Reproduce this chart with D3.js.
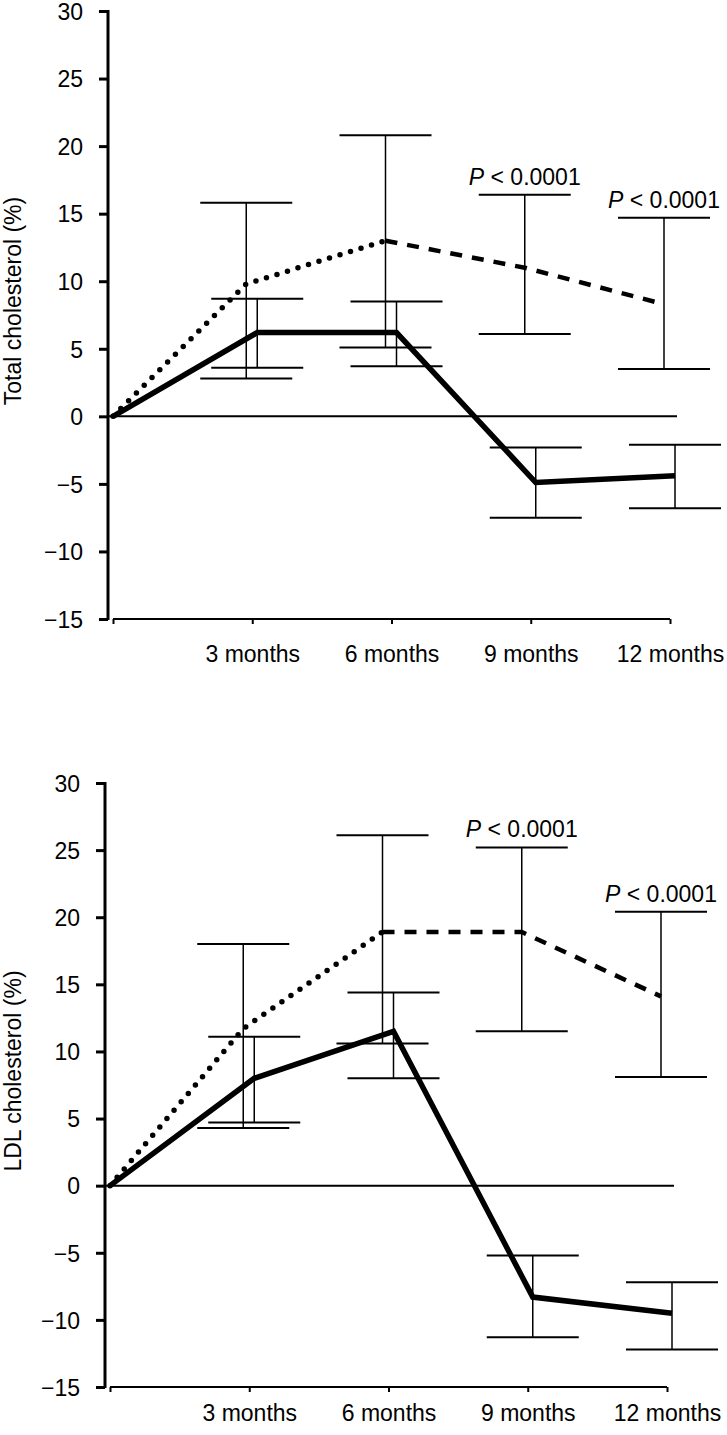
<!DOCTYPE html>
<html>
<head>
<meta charset="utf-8">
<script src="https://cdn.jsdelivr.net/npm/d3@7"></script>
<style>
  html, body { margin: 0; padding: 0; background: #fff; }
  svg { display: block; }
  text { font-family: "Liberation Sans", Arial, Helvetica, sans-serif; fill: #000; }
</style>
</head>
<body>
<svg id="chart" width="727" height="1435"></svg>
<script>
// ---- data ----
const months = [0, 3, 6, 9, 12];
const monthLabels = ["", "3 months", "6 months", "9 months", "12 months"];
const yTickValues = [-15, -10, -5, 0, 5, 10, 15, 20, 25, 30];

// Panel 1: Total cholesterol (%)
const totalSolid   = [0, 6.2, 6.2, -4.9, -4.4];
const totalSolidHi = [null, 8.7, 8.5, -2.3, -2.1];
const totalSolidLo = [null, 3.6, 3.7, -7.5, -6.8];
const totalDashed   = [0, 9.8, 13.0, 11.0, 8.3];
const totalDashedHi = [null, 15.8, 20.8, 16.4, 14.7];
const totalDashedLo = [null, 2.8, 5.1, 6.1, 3.5];

// Panel 2: LDL cholesterol (%)
const ldlSolid   = [0, 8.0, 11.5, -8.3, -9.5];
const ldlSolidHi = [null, 11.1, 14.4, -5.2, -7.2];
const ldlSolidLo = [null, 4.7, 8.0, -11.3, -12.2];
const ldlDashed   = [0, 11.7, 18.9, 18.9, 14.1];
const ldlDashedHi = [null, 18.0, 26.1, 25.2, 20.4];
const ldlDashedLo = [null, 4.3, 10.6, 11.5, 8.1];

const pLabelMonths = [9, 12];
const pText = "< 0.0001";

// ---- drawing ----
const svg = d3.select("#chart");
const FONT = 23;

function panel(cfg) {
  const g = svg.append("g");
  const x = d3.scaleLinear().domain([0, 12]).range(cfg.xRange);
  const y = d3.scaleLinear().domain([-15, 30]).range([cfg.yBottom, cfg.yTop]);
  const axisX = cfg.xRange[0] - 5;
  const offD = -6, offS = 5;

  // y axis
  const ya = g.append("g").attr("transform", `translate(${axisX},0)`)
    .call(d3.axisLeft(y).tickValues(yTickValues).tickSize(9).tickPadding(16)
      .tickFormat(d => d < 0 ? "\u2212" + Math.abs(d) : d));
  ya.select(".domain").remove();
  ya.selectAll(".tick line").attr("stroke", "#000").attr("stroke-width", 3);
  ya.selectAll(".tick text").style("font-size", FONT + "px").attr("dy", "0.36em");
  g.append("line").attr("x1", axisX).attr("x2", axisX)
    .attr("y1", y(30) - 1).attr("y2", y(-15) + 1)
    .attr("stroke", "#000").attr("stroke-width", 3);

  // x axis
  const xa = g.append("g").attr("transform", `translate(0,${y(-15)})`)
    .call(d3.axisBottom(x).tickValues(months).tickSize(5).tickPadding(cfg.xPad)
      .tickFormat((d, i) => monthLabels[i]));
  xa.select(".domain").attr("stroke", "#000").attr("stroke-width", 2)
    .attr("d", `M${x(0)},0H${x(12)}`);
  xa.selectAll(".tick line").attr("stroke", "#000").attr("stroke-width", 2);
  xa.selectAll(".tick text").style("font-size", FONT + "px");

  // y label
  g.append("text")
    .attr("transform", `translate(13,${(y(30) + y(-15)) / 2 - 14}) rotate(-90)`)
    .attr("text-anchor", "middle").attr("dominant-baseline", "central")
    .style("font-size", FONT + "px").text(cfg.label);

  // zero line
  g.append("line").attr("x1", axisX).attr("x2", x(12) + offS + 2)
    .attr("y1", y(0)).attr("y2", y(0)).attr("stroke", "#000").attr("stroke-width", 2);

  // error bars
  const capHalf = 46;
  function bars(hi, lo, off) {
    months.forEach((m, i) => {
      if (hi[i] == null) return;
      const cx = x(m) + off;
      g.append("line").attr("x1", cx).attr("x2", cx).attr("y1", y(hi[i])).attr("y2", y(lo[i]))
        .attr("stroke", "#000").attr("stroke-width", 1.5);
      [hi[i], lo[i]].forEach(v => {
        g.append("line").attr("x1", cx - capHalf).attr("x2", cx + capHalf)
          .attr("y1", y(v)).attr("y2", y(v)).attr("stroke", "#000").attr("stroke-width", 2);
      });
    });
  }
  bars(cfg.dashedHi, cfg.dashedLo, offD);
  bars(cfg.solidHi, cfg.solidLo, offS);

  // dashed series: dotted up to 6 months, dashed afterwards
  const ptsD = months.map((m, i) => [i === 0 ? x(m) : x(m) + offD, y(cfg.dashed[i])]);
  const line = d3.line();
  g.append("path").attr("d", line(ptsD.slice(0, 3))).attr("fill", "none")
    .attr("stroke", "#000").attr("stroke-width", 5.5).attr("stroke-linecap", "round")
    .attr("stroke-dasharray", "0,11");
  g.append("path").attr("d", line(ptsD.slice(2))).attr("fill", "none")
    .attr("stroke", "#000").attr("stroke-width", 4.5).attr("stroke-linecap", "butt")
    .attr("stroke-dasharray", "12,10");

  // solid series
  const ptsS = months.map((m, i) => [i === 0 ? x(m) : x(m) + offS, y(cfg.solid[i])]);
  g.append("path").attr("d", line(ptsS)).attr("fill", "none")
    .attr("stroke", "#000").attr("stroke-width", 5.5).attr("stroke-linejoin", "miter");

  // P-value labels
  pLabelMonths.forEach(m => {
    const i = months.indexOf(m);
    const t = g.append("text").attr("x", x(m) + offD).attr("y", y(cfg.dashedHi[i]) - 10)
      .attr("text-anchor", "middle").style("font-size", FONT + "px");
    t.append("tspan").style("font-style", "italic").text("P");
    t.append("tspan").text(" " + pText);
  });
}

panel({ yTop: 11, yBottom: 619, xRange: [113, 670], xPad: 22, label: "Total cholesterol (%)",
  solid: totalSolid, solidHi: totalSolidHi, solidLo: totalSolidLo,
  dashed: totalDashed, dashedHi: totalDashedHi, dashedLo: totalDashedLo });

panel({ yTop: 783, yBottom: 1387, xRange: [110, 667], xPad: 13, label: "LDL cholesterol (%)",
  solid: ldlSolid, solidHi: ldlSolidHi, solidLo: ldlSolidLo,
  dashed: ldlDashed, dashedHi: ldlDashedHi, dashedLo: ldlDashedLo });
</script>
</body>
</html>
